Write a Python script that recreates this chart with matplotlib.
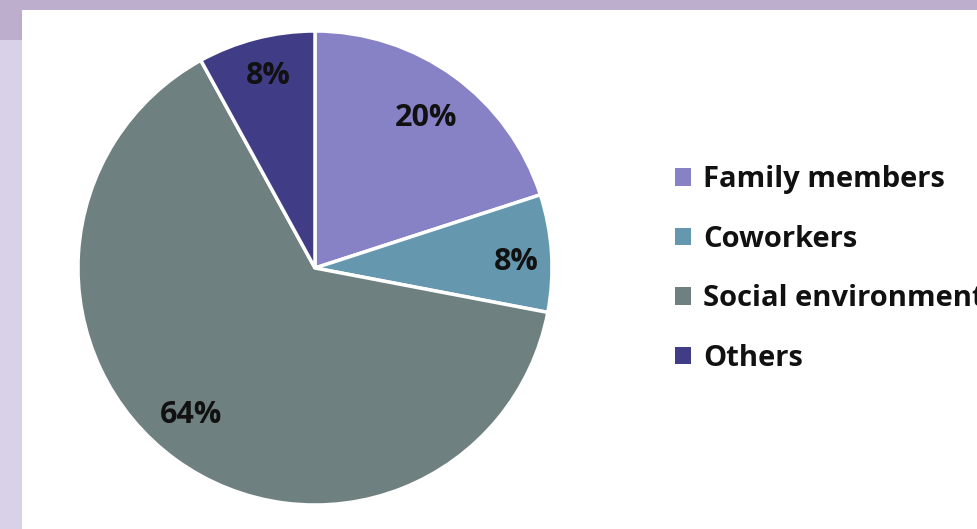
import numpy as np
import matplotlib
matplotlib.use('Agg')
import matplotlib.pyplot as plt
from matplotlib.patches import Rectangle

plt.rcParams['font.family'] = ['Open Sans', 'DejaVu Sans']

# data
categories = ['Family members', 'Coworkers', 'Social environment', 'Others']
shares = [20, 8, 64, 8]
colors = ['#8682C5', '#6598AF', '#6E807F', '#403C86']

# label placement (fraction of radius, angle shift in degrees)
label_dist = [0.80, 0.85, 0.80, 0.85]
label_shift = [0, -1, -5, -1]

W, H = 978, 529
fig = plt.figure(figsize=(W / 100, H / 100), dpi=100)
fig.patch.set_facecolor('white')

# background frame (purple bands)
fig.patches.append(Rectangle((0, 1 - 10 / H), 1, 10 / H, transform=fig.transFigure,
                             facecolor='#BCAECC', edgecolor='none', zorder=0))
fig.patches.append(Rectangle((0, 1 - 40 / H), 22 / W, 30 / H, transform=fig.transFigure,
                             facecolor='#BCAECC', edgecolor='none', zorder=0))
fig.patches.append(Rectangle((0, 0), 22 / W, 1 - 40 / H, transform=fig.transFigure,
                             facecolor='#D9D1E7', edgecolor='none', zorder=0))

cx, cy, r = 315, 268, 237
ax = fig.add_axes([(cx - r) / W, (H - cy - r) / H, 2 * r / W, 2 * r / H])

wedges, texts, autotexts = ax.pie(shares, colors=colors, startangle=90, counterclock=False,
                                  autopct='%1.0f%%', pctdistance=0.8,
                                  wedgeprops=dict(edgecolor='white', linewidth=2.5),
                                  textprops=dict(fontsize=22, fontweight='bold', color='#111111'))
# place each percentage label along its wedge bisector
for w, t, d, s in zip(wedges, autotexts, label_dist, label_shift):
    ang = np.deg2rad((w.theta1 + w.theta2) / 2 + s)
    t.set_position((d * np.cos(ang), d * np.sin(ang)))
    t.set_va('center_baseline')
ax.set_xlim(-1, 1)
ax.set_ylim(-1, 1)
ax.set_aspect('equal')
ax.axis('off')
for w in wedges:
    w.set_clip_on(False)

leg = fig.legend(wedges, categories, loc='center left', bbox_to_anchor=(649 / W, 1 - 269 / H),
                 frameon=False, prop=dict(weight='bold', size=21),
                 handlelength=0.55, handleheight=0.55, handletextpad=0.4, labelspacing=1.05)
for t in leg.get_texts():
    t.set_color('#111111')
for h in leg.legend_handles:
    h.set_edgecolor('none')

fig.savefig('out.png', dpi=100)
